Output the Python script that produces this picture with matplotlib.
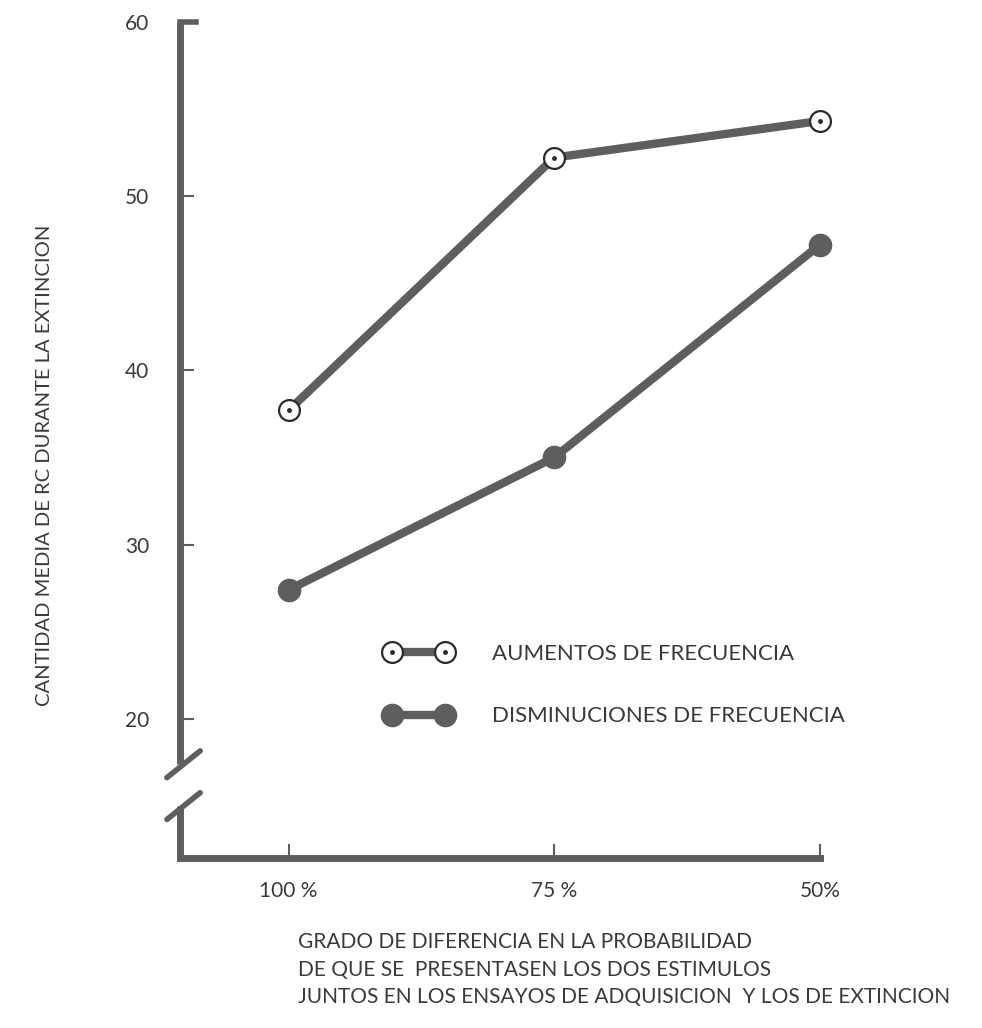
import matplotlib
matplotlib.use("Agg")
from matplotlib import pyplot as plt
from matplotlib.legend_handler import HandlerTuple

# data
categorias = ["100 %", "75 %", "50%"]
aumentos = [37.7, 52.2, 54.3]
disminuciones = [27.4, 35.0, 47.2]
y_ticks = [20, 30, 40, 50, 60]

gris = "#5e5e5e"
texto = "#3a3a3a"
plt.rcParams['font.family'] = ['Lato', 'DejaVu Sans']

fig = plt.figure(figsize=(9.82, 10.28), dpi=100)
ax = fig.add_axes([0.183, 0.165, 0.652, 0.814])

x = list(range(len(categorias)))

l1, = ax.plot(x, aumentos, color=gris, lw=6, marker='o', ms=15,
              mfc='white', mec='#2a2a2a', mew=1.6, solid_capstyle='butt',
              zorder=3, clip_on=False)
d1, = ax.plot(x, aumentos, ls='none', marker='o', ms=2.5, color='#2a2a2a',
              zorder=4, clip_on=False)
l2, = ax.plot(x, disminuciones, color=gris, lw=6, marker='o', ms=16,
              mfc=gris, mec=gris, solid_capstyle='butt', zorder=3, clip_on=False)

ax.set_xlim(-0.41, 2.0)
ax.set_ylim(12, 60)

# axes look: thick gray spines, broken y axis
for s in ['top', 'right', 'left']:
    ax.spines[s].set_visible(False)
ax.spines['bottom'].set_linewidth(5)
ax.spines['bottom'].set_color(gris)

ylo = (15.0 - 12) / 48   # lower piece top
yhi = (17.4 - 12) / 48   # upper piece bottom
ax.plot([0, 0], [0, ylo], transform=ax.transAxes, color=gris, lw=5,
        clip_on=False, solid_capstyle='butt')
ax.plot([0, 0], [yhi, 1.0], transform=ax.transAxes, color=gris, lw=5,
        clip_on=False, solid_capstyle='butt')
# break slashes
for yb in [ylo, yhi]:
    ax.plot([-0.02, 0.032], [yb - 0.016, yb + 0.016], transform=ax.transAxes,
            color=gris, lw=4, clip_on=False, solid_capstyle='round')
# small cap at top of y axis
ax.plot([0, 0.025], [1.0, 1.0], transform=ax.transAxes, color=gris, lw=4,
        clip_on=False)

ax.set_yticks(y_ticks)
ax.set_yticklabels([str(v) for v in y_ticks])
ax.set_xticks(x)
ax.set_xticklabels(categorias)
ax.tick_params(axis='y', direction='in', length=10, width=1.5, color=gris,
               labelsize=15, labelcolor=texto, pad=22)
ax.tick_params(axis='x', direction='in', length=10, width=1.5, color=gris,
               labelsize=15, labelcolor=texto, pad=16)

fig.text(0.045, 1 - 465 / 1028, "CANTIDAD MEDIA DE RC DURANTE LA EXTINCION",
         fontsize=14.5, color=texto, rotation=90, ha='center', va='center')

fig.text(0.303, 0.093, "GRADO DE DIFERENCIA EN LA PROBABILIDAD\n"
         "DE QUE SE  PRESENTASEN LOS DOS ESTIMULOS\n"
         "JUNTOS EN LOS ENSAYOS DE ADQUISICION  Y LOS DE EXTINCION",
         fontsize=15, color=texto, ha='left', va='top', linespacing=1.45)

ax.legend(handles=[(l1, d1), l2],
          labels=["AUMENTOS DE FRECUENCIA", "DISMINUCIONES DE FRECUENCIA"],
          handler_map={tuple: HandlerTuple(ndivide=1)},
          loc='upper left', bbox_to_anchor=(0.29, 0.28), frameon=False,
          fontsize=16, labelcolor=texto, handlelength=3.0, handletextpad=1.8,
          labelspacing=1.9, numpoints=2)

plt.savefig("out.png", dpi=100)
